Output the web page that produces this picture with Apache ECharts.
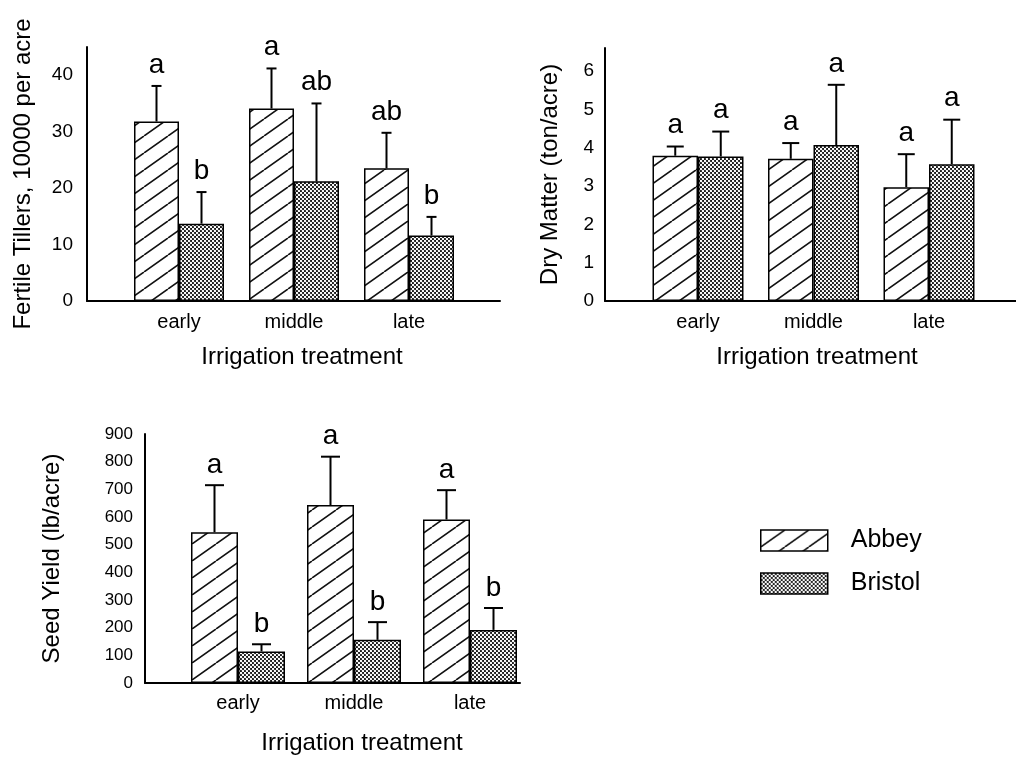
<!DOCTYPE html>
<html>
<head>
<meta charset="utf-8">
<script src="https://cdn.jsdelivr.net/npm/echarts@6/dist/echarts.min.js"></script>
<style>
html,body{margin:0;padding:0;background:#fff;}
#chart{width:1016px;height:761px;}
</style>
</head>
<body>
<div id="chart"></div>
<script>
// ---------------- data ----------------
const categories = ['early', 'middle', 'late'];
const seriesNames = ['Abbey', 'Bristol'];

const tillersAbbey = [31.8, 34.1, 23.5];
const tillersAbbeyUpper = [38.1, 41.2, 29.8];
const tillersBristol = [13.7, 21.2, 11.6];
const tillersBristolUpper = [19.3, 35.0, 14.9];
const tillersAbbeyLetters = ['a', 'a', 'ab'];
const tillersBristolLetters = ['b', 'ab', 'b'];

const dryAbbey = [3.79, 3.71, 2.97];
const dryAbbeyUpper = [4.03, 4.12, 3.83];
const dryBristol = [3.77, 4.07, 3.57];
const dryBristolUpper = [4.42, 5.64, 4.73];
const dryAbbeyLetters = ['a', 'a', 'a'];
const dryBristolLetters = ['a', 'a', 'a'];

const seedAbbey = [545, 643, 591];
const seedAbbeyUpper = [715, 818, 697];
const seedBristol = [114, 156, 192];
const seedBristolUpper = [140, 220, 271];
const seedAbbeyLetters = ['a', 'a', 'a'];
const seedBristolLetters = ['b', 'b', 'b'];

const tillersAxis = {max: 45, interval: 10};
const dryAxis = {max: 6.6, interval: 1};
const seedAxis = {max: 900, interval: 100};

const titleTillers = 'Fertile Tillers, 10000 per acre';
const titleDry = 'Dry Matter (ton/acre)';
const titleSeed = 'Seed Yield (lb/acre)';
const titleX = 'Irrigation treatment';

// ---------------- patterns ----------------
const FONT = '"Liberation Sans", Arial, Helvetica, sans-serif';
function hatchPattern() {
  const w = 24, h = 17;
  const c = document.createElement('canvas');
  c.width = w; c.height = h;
  const g = c.getContext('2d');
  g.fillStyle = '#fff'; g.fillRect(0, 0, w, h);
  g.strokeStyle = '#111'; g.lineWidth = 1.6;
  g.beginPath();
  g.moveTo(0, h); g.lineTo(w, 0);
  g.moveTo(-w, h); g.lineTo(0, 0);
  g.moveTo(w, h); g.lineTo(2 * w, 0);
  g.stroke();
  return {image: c, repeat: 'repeat'};
}
function dotPattern() {
  const s = 4;
  const c = document.createElement('canvas');
  c.width = s; c.height = s;
  const g = c.getContext('2d');
  g.fillStyle = '#1a1a1a'; g.fillRect(0, 0, s, s);
  g.fillStyle = '#fff';
  g.beginPath(); g.arc(1, 1, 1.2, 0, Math.PI * 2); g.fill();
  g.beginPath(); g.arc(3, 3, 1.2, 0, Math.PI * 2); g.fill();
  return {image: c, repeat: 'repeat'};
}
const patterns = [hatchPattern(), dotPattern()];

// ---------------- panels ----------------
const panels = [
  {
    axisGrid: {left: 87, right: 516, top: 47, bottom: 460},
    barGrid: {left: 121.5, right: 549.5, top: 47, bottom: 460},
    axis: tillersAxis, showMax: false, tickFont: 19, tickMargin: 14,
    barWidth: 45, cap: 10, yName: titleTillers, yNameGap: 52, xShift: 16,
    xNameGap: 44, catMargin: 11, letterGap: 21,
    values: [tillersAbbey, tillersBristol],
    upper: [tillersAbbeyUpper, tillersBristolUpper],
    letters: [tillersAbbeyLetters, tillersBristolLetters]
  },
  {
    axisGrid: {left: 605, right: 0, top: 48, bottom: 460},
    barGrid: {left: 640.25, right: 29.25, top: 48, bottom: 460},
    axis: dryAxis, showMax: false, tickFont: 19, tickMargin: 11,
    barWidth: 45.5, cap: 17, yName: titleDry, yNameGap: 43, xShift: 7,
    xNameGap: 44, catMargin: 11, letterGap: 21,
    values: [dryAbbey, dryBristol],
    upper: [dryAbbeyUpper, dryBristolUpper],
    letters: [dryAbbeyLetters, dryBristolLetters]
  },
  {
    axisGrid: {left: 145, right: 496, top: 434, bottom: 78},
    barGrid: {left: 180, right: 488, top: 434, bottom: 78},
    axis: seedAxis, showMax: true, tickFont: 17, tickMargin: 12,
    barWidth: 47, cap: 19, yName: titleSeed, yNameGap: 81, xShift: 16,
    xNameGap: 48, catMargin: 10, letterGap: 20,
    values: [seedAbbey, seedBristol],
    upper: [seedAbbeyUpper, seedBristolUpper],
    letters: [seedAbbeyLetters, seedBristolLetters]
  }
];

const grid = [], xAxis = [], yAxis = [], series = [];
panels.forEach((p, pi) => {
  const ag = grid.length; grid.push(p.axisGrid);
  const bg = grid.length; grid.push(p.barGrid);
  // axis-line grid
  xAxis.push({
    gridIndex: ag, type: 'value', min: 0, max: 1,
    axisLine: {show: true, lineStyle: {color: '#000', width: 2}},
    axisTick: {show: false}, axisLabel: {show: false}, splitLine: {show: false}
  });
  yAxis.push({
    gridIndex: ag, type: 'value', min: 0, max: p.axis.max, interval: p.axis.interval,
    axisLine: {show: true, lineStyle: {color: '#000', width: 2}},
    axisTick: {show: false}, splitLine: {show: false},
    axisLabel: {color: '#000', fontSize: p.tickFont, fontFamily: FONT, margin: p.tickMargin,
                showMaxLabel: p.showMax},
    name: p.yName, nameLocation: 'middle', nameRotate: 90, nameGap: p.yNameGap,
    nameTextStyle: {color: '#000', fontSize: 24, fontFamily: FONT}
  });
  // bar grid
  const bx = xAxis.length;
  xAxis.push({
    gridIndex: bg, type: 'category', data: categories,
    axisLine: {show: false}, axisTick: {show: false}, splitLine: {show: false},
    axisLabel: {color: '#000', fontSize: 20, fontFamily: FONT, margin: p.catMargin},
    name: titleX, nameLocation: 'middle', nameGap: p.xNameGap,
    nameTextStyle: {color: '#000', fontSize: 24, fontFamily: FONT, padding: [0, 0, 0, p.xShift]}
  });
  const by = yAxis.length;
  yAxis.push({gridIndex: bg, type: 'value', min: 0, max: p.axis.max, show: false});

  seriesNames.forEach((name, si) => {
    series.push({
      name: name, type: 'bar', xAxisIndex: bx, yAxisIndex: by,
      data: p.values[si], barWidth: p.barWidth, barGap: '0%',
      itemStyle: {color: patterns[si], borderColor: '#000', borderWidth: 1.5},
      emphasis: {disabled: true}, silent: true, z: 2
    });
    const offset = (si === 0 ? -1 : 1) * p.barWidth / 2;
    const letters = p.letters[si];
    series.push({
      type: 'custom', xAxisIndex: bx, yAxisIndex: by, silent: true, z: 5,
      data: p.values[si].map((v, i) => [i, v, p.upper[si][i]]),
      renderItem: function (params, api) {
        const c = api.value(0), m = api.value(1), u = api.value(2);
        const p0 = api.coord([c, m]);
        const p1 = api.coord([c, u]);
        const x = p0[0] + offset;
        return {
          type: 'group',
          children: [
            {type: 'line', shape: {x1: x, y1: p0[1], x2: x, y2: p1[1]},
             style: {stroke: '#000', lineWidth: 2}},
            {type: 'line', shape: {x1: x - p.cap / 2, y1: p1[1], x2: x + p.cap / 2, y2: p1[1]},
             style: {stroke: '#000', lineWidth: 2}},
            {type: 'text', x: x, y: p1[1] - p.letterGap,
             style: {text: letters[params.dataIndex], fill: '#000', font: '28px ' + FONT,
                     textAlign: 'center', textVerticalAlign: 'middle'}}
          ]
        };
      }
    });
  });
});

const chart = echarts.init(document.getElementById('chart'), null, {renderer: 'canvas'});
chart.setOption({
  backgroundColor: '#fff',
  animation: false,
  legend: {
    data: seriesNames, orient: 'vertical', left: 760, top: 528,
    itemWidth: 67, itemHeight: 21, itemGap: 18, icon: 'rect', padding: 0,
    selectedMode: false,
    itemStyle: {borderColor: '#000', borderWidth: 1.5},
    textStyle: {color: '#000', fontSize: 25, fontFamily: FONT, padding: [0, 0, 0, 18]}
  },
  grid: grid,
  xAxis: xAxis,
  yAxis: yAxis,
  series: series
});
</script>
</body>
</html>
